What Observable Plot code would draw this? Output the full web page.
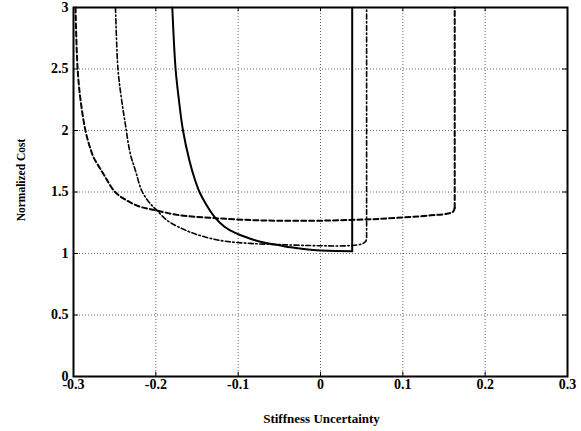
<!DOCTYPE html>
<html>
<head>
<meta charset="utf-8">
<script src="https://cdn.jsdelivr.net/npm/d3@7"></script>
<script src="https://cdn.jsdelivr.net/npm/@observablehq/plot@0.6"></script>
<style>
  html, body { margin: 0; padding: 0; background: #fff; }
  #chart svg { display: block; }
</style>
</head>
<body>
<div id="chart"></div>
<script>
// Data
const xTicks = [-0.3, -0.2, -0.1, 0, 0.1, 0.2, 0.3];
const yTicks = [0, 0.5, 1, 1.5, 2, 2.5, 3];
const xTickLabels = ["-0.3", "-0.2", "-0.1", "0", "0.1", "0.2", "0.3"];
const yTickLabels = ["0", "0.5", "1", "1.5", "2", "2.5", "3"];
const xTitle = "Stiffness Uncertainty";
const yTitle = "Normalized Cost";

// solid curve (last point closes the vertical edge)
const solidX = [-0.180, -0.176, -0.172, -0.167, -0.159, -0.1525, -0.147, -0.139, -0.129, -0.117, -0.103, -0.085, -0.073, -0.0486, -0.036, -0.018, 0.000, 0.020, 0.0385, 0.0385];
const solidY = [3.0, 2.5, 2.25, 2.0, 1.75, 1.6, 1.5, 1.4, 1.3, 1.22, 1.165, 1.12, 1.095, 1.065, 1.05, 1.035, 1.025, 1.02, 1.019, 3.0];

// dash-dot curve
const dashDotX = [-0.249, -0.246, -0.242, -0.237, -0.231, -0.2248, -0.2167, -0.2066, -0.1993, -0.186, -0.158, -0.1215, -0.085, -0.0486, 0.000, 0.035, 0.0506, 0.055, 0.056, 0.056];
const dashDotY = [3.0, 2.5, 2.27, 2.05, 1.81, 1.675, 1.504, 1.404, 1.355, 1.268, 1.173, 1.106, 1.082, 1.072, 1.063, 1.064, 1.079, 1.1, 1.13, 3.0];

// dashed curve
const dashedX = [-0.2976, -0.295, -0.2915, -0.2855, -0.2794, -0.2755, -0.2685, -0.2625, -0.2495, -0.235, -0.219, -0.2005, -0.174, -0.1276, -0.065, 0.000, 0.073, 0.134, 0.155, 0.161, 0.163, 0.163];
const dashedY = [3.0, 2.5, 2.25, 2.0, 1.85, 1.78, 1.7, 1.634, 1.5, 1.43, 1.38, 1.352, 1.314, 1.287, 1.268, 1.267, 1.282, 1.31, 1.325, 1.34, 1.37, 3.0];

const toPts = (xs, ys) => xs.map((x, i) => ({x, y: ys[i]}));
const solid = toPts(solidX, solidY);
const dashDot = toPts(dashDotX, dashDotY);
const dashed = toPts(dashedX, dashedY);

const xFmt = d => xTickLabels[xTicks.indexOf(d)];
const yFmt = d => yTickLabels[yTicks.indexOf(d)];

function curveMarks(pts, opts) {
  return [
    Plot.line(pts.slice(0, -1), {x: "x", y: "y", curve: "catmull-rom", ...opts}),
    Plot.line(pts.slice(-2), {x: "x", y: "y", ...opts})
  ];
}

const chart = Plot.plot({
  width: 581,
  height: 431,
  marginLeft: 73,
  marginRight: 14,
  marginTop: 7,
  marginBottom: 55,
  style: {fontFamily: "'Liberation Serif', 'DejaVu Serif', serif", fontWeight: "bold", fontSize: "14px", color: "#000", background: "#fff"},
  x: {domain: [-0.3, 0.3]},
  y: {domain: [0, 3]},
  marks: [
    Plot.gridX(xTicks.slice(1, -1), {stroke: "#000", strokeOpacity: 0.6, strokeDasharray: "1,2", strokeWidth: 1}),
    Plot.gridY(yTicks.slice(1, -1), {stroke: "#000", strokeOpacity: 0.6, strokeDasharray: "1,2", strokeWidth: 1}),
    Plot.ruleX(xTicks, {y1: 0, y2: 0.035, stroke: "#000", strokeWidth: 1}),
    Plot.ruleX(xTicks, {y1: 3, y2: 2.965, stroke: "#000", strokeWidth: 1}),
    Plot.ruleY(yTicks, {x1: -0.3, x2: -0.294, stroke: "#000", strokeWidth: 1}),
    Plot.ruleY(yTicks, {x1: 0.3, x2: 0.294, stroke: "#000", strokeWidth: 1}),
    ...curveMarks(dashed, {stroke: "#000", strokeWidth: 2, strokeDasharray: "5,3"}),
    ...curveMarks(dashDot, {stroke: "#000", strokeWidth: 1.6, strokeDasharray: "5,2.5,1.5,2.5"}),
    ...curveMarks(solid, {stroke: "#000", strokeWidth: 2}),
    Plot.frame({stroke: "#000", strokeWidth: 2}),
    Plot.axisX(xTicks, {tickSize: 0, tickPadding: 3, tickFormat: xFmt, label: null, fontSize: 14}),
    Plot.axisY(yTicks, {tickSize: 0, tickPadding: 5, tickFormat: yFmt, label: null, fontSize: 14}),
    Plot.text([xTitle], {text: d => d, frameAnchor: "bottom", dx: 1, dy: 42, textAnchor: "middle", lineAnchor: "middle", fontSize: 13}),
    Plot.text([yTitle], {text: d => d, frameAnchor: "left", rotate: -90, dx: -52, dy: -12, textAnchor: "middle", lineAnchor: "middle", fontSize: 11.5})
  ]
});

document.getElementById("chart").appendChild(chart);
</script>
</body>
</html>
